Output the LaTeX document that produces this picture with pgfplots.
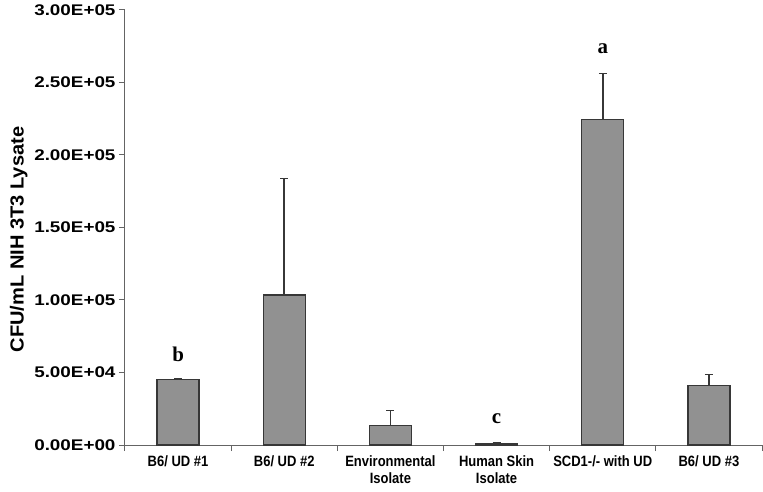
\documentclass[border=0pt]{standalone}
\usepackage{pgfplots}
\pgfplotsset{compat=1.18}
\usepackage{fontspec}
\setmainfont{Liberation Sans}
\newfontfamily\tickfont{Liberation Sans}[FakeStretch=0.87]
\newfontfamily\ytickfont{Liberation Sans}[FakeStretch=1.22]
\newfontfamily\ylabfont{Liberation Sans}[FakeStretch=1.06]
\newfontfamily\letterfont{Liberation Serif}
\definecolor{barfill}{RGB}{145,145,145}
\definecolor{baredge}{RGB}{55,55,55}
\definecolor{axisgray}{RGB}{100,100,100}
\begin{document}
\begin{tikzpicture}
\begin{axis}[
  name=main,
  scale only axis, width=637bp, height=435bp,
  xmin=-0.5, xmax=5.5, ymin=0, ymax=300000,
  axis lines=left,
  axis line style={-, draw=axisgray, line width=1bp},
  tick style={draw=axisgray, line width=1bp},
  tick align=outside, major tick length=6bp,
  scaled y ticks=false,
  ytick={0,50000,100000,150000,200000,250000,300000},
  yticklabels={0.00E+00,5.00E+04,1.00E+05,1.50E+05,2.00E+05,2.50E+05,3.00E+05},
  yticklabel style={font=\ytickfont\bfseries\fontsize{15.5}{17}\selectfont},
  xtick={-0.5,0.5,1.5,2.5,3.5,4.5,5.5},
  x tick label as interval,
  xticklabels={B6/ UD \#1, B6/ UD \#2, {Environmental\\Isolate}, {Human Skin\\Isolate}, SCD1-/- with UD, B6/ UD \#3},
  xticklabel style={align=center, font=\tickfont\bfseries\fontsize{15}{17}\selectfont, yshift=-1bp},
  ylabel={CFU/mL NIH 3T3 Lysate},
  ylabel style={font=\ylabfont\bfseries\fontsize{19}{21}\selectfont, at={(ticklabel cs:0.479)}, xshift=-3bp},
  clip=false,
]
\addplot[ybar, bar width=42bp, fill=barfill, draw=baredge, line width=1.3bp,
  error bars/.cd, y dir=plus, y explicit,
  error bar style={line width=1.5bp, draw=baredge},
  error mark options={rotate=90, mark size=4bp, line width=1.5bp, draw=baredge}]
  table[x=x, y=y, y error=e] {
x y e
0 45300 700
1 103400 80500
2 13300 10400
3 1200 300
4 224600 31500
5 40900 7600
};
\node[font=\letterfont\bfseries\fontsize{21}{22}\selectfont] at (axis cs:0,62500) {b};
\node[font=\letterfont\bfseries\fontsize{21}{22}\selectfont] at (axis cs:4,273500) {a};
\node[font=\letterfont\bfseries\fontsize{21}{22}\selectfont] at (axis cs:3,18500) {c};
\end{axis}
\pgfresetboundingbox
\path (main.south west) ++(-125bp,-47bp) rectangle ++(763bp,492bp);
\end{tikzpicture}
\end{document}
